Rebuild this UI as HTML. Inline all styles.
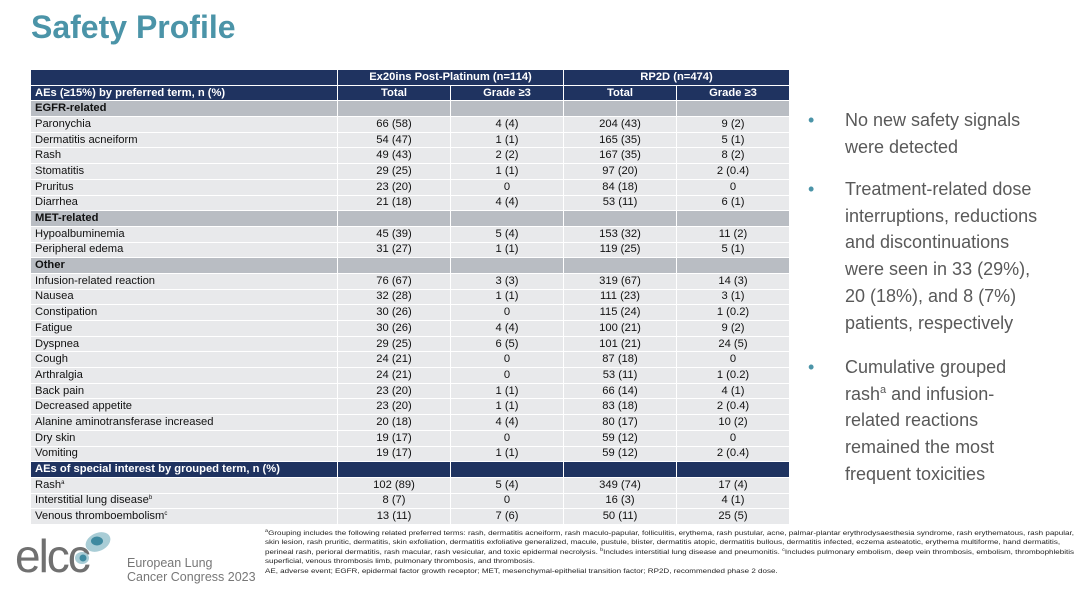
<!DOCTYPE html>
<html><head><meta charset="utf-8"><style>
body{margin:0;width:1080px;height:591px;background:#fff;position:relative;overflow:hidden;font-family:"Liberation Sans",sans-serif}
.t{position:absolute;left:31px;top:9px;font-size:32px;font-weight:bold;color:#4b94a8;margin:0}
table{position:absolute;left:30px;top:69px;border-collapse:collapse;table-layout:fixed;font-size:11.2px;color:#111}
td{height:14.7px;padding:0 4px;border:1px solid #fff;background:#e8e9eb;text-align:center;white-space:nowrap;line-height:13px}
td.l{text-align:left}
tr.h td{background:#1f3360;color:#fff;font-weight:bold}
tr.s td{background:#b9bdc3;font-weight:bold}
sup{font-size:6px;line-height:0;vertical-align:4px}
.bul{position:absolute;left:808px;color:#595959;font-size:18px;line-height:26.7px;white-space:nowrap}
.bul span{position:absolute;left:0;color:#4b94a8}
.bul div{margin-left:37px}
.bul sup{font-size:11px;vertical-align:7px}
.fn{position:absolute;left:265px;top:529px;font-size:6.5px;line-height:9.4px;color:#222;white-space:nowrap;transform:scaleX(1.235);transform-origin:0 0}
.fn sup{font-size:4.5px;vertical-align:3px}
</style></head><body>
<h1 class="t">Safety Profile</h1>
<table>
<colgroup><col style="width:307px"><col style="width:113px"><col style="width:113px"><col style="width:113px"><col style="width:113px"></colgroup>
<tr class="h"><td></td><td colspan="2">Ex20ins Post-Platinum (n=114)</td><td colspan="2">RP2D (n=474)</td></tr>
<tr class="h"><td class="l">AEs (≥15%) by preferred term, n (%)</td><td>Total</td><td>Grade ≥3</td><td>Total</td><td>Grade ≥3</td></tr>
<tr class="s"><td class="l">EGFR-related</td><td></td><td></td><td></td><td></td></tr>
<tr><td class="l">Paronychia</td><td>66 (58)</td><td>4 (4)</td><td>204 (43)</td><td>9 (2)</td></tr>
<tr><td class="l">Dermatitis acneiform</td><td>54 (47)</td><td>1 (1)</td><td>165 (35)</td><td>5 (1)</td></tr>
<tr><td class="l">Rash</td><td>49 (43)</td><td>2 (2)</td><td>167 (35)</td><td>8 (2)</td></tr>
<tr><td class="l">Stomatitis</td><td>29 (25)</td><td>1 (1)</td><td>97 (20)</td><td>2 (0.4)</td></tr>
<tr><td class="l">Pruritus</td><td>23 (20)</td><td>0</td><td>84 (18)</td><td>0</td></tr>
<tr><td class="l">Diarrhea</td><td>21 (18)</td><td>4 (4)</td><td>53 (11)</td><td>6 (1)</td></tr>
<tr class="s"><td class="l">MET-related</td><td></td><td></td><td></td><td></td></tr>
<tr><td class="l">Hypoalbuminemia</td><td>45 (39)</td><td>5 (4)</td><td>153 (32)</td><td>11 (2)</td></tr>
<tr><td class="l">Peripheral edema</td><td>31 (27)</td><td>1 (1)</td><td>119 (25)</td><td>5 (1)</td></tr>
<tr class="s"><td class="l">Other</td><td></td><td></td><td></td><td></td></tr>
<tr><td class="l">Infusion-related reaction</td><td>76 (67)</td><td>3 (3)</td><td>319 (67)</td><td>14 (3)</td></tr>
<tr><td class="l">Nausea</td><td>32 (28)</td><td>1 (1)</td><td>111 (23)</td><td>3 (1)</td></tr>
<tr><td class="l">Constipation</td><td>30 (26)</td><td>0</td><td>115 (24)</td><td>1 (0.2)</td></tr>
<tr><td class="l">Fatigue</td><td>30 (26)</td><td>4 (4)</td><td>100 (21)</td><td>9 (2)</td></tr>
<tr><td class="l">Dyspnea</td><td>29 (25)</td><td>6 (5)</td><td>101 (21)</td><td>24 (5)</td></tr>
<tr><td class="l">Cough</td><td>24 (21)</td><td>0</td><td>87 (18)</td><td>0</td></tr>
<tr><td class="l">Arthralgia</td><td>24 (21)</td><td>0</td><td>53 (11)</td><td>1 (0.2)</td></tr>
<tr><td class="l">Back pain</td><td>23 (20)</td><td>1 (1)</td><td>66 (14)</td><td>4 (1)</td></tr>
<tr><td class="l">Decreased appetite</td><td>23 (20)</td><td>1 (1)</td><td>83 (18)</td><td>2 (0.4)</td></tr>
<tr><td class="l">Alanine aminotransferase increased</td><td>20 (18)</td><td>4 (4)</td><td>80 (17)</td><td>10 (2)</td></tr>
<tr><td class="l">Dry skin</td><td>19 (17)</td><td>0</td><td>59 (12)</td><td>0</td></tr>
<tr><td class="l">Vomiting</td><td>19 (17)</td><td>1 (1)</td><td>59 (12)</td><td>2 (0.4)</td></tr>
<tr class="h"><td class="l">AEs of special interest by grouped term, n (%)</td><td></td><td></td><td></td><td></td></tr>
<tr><td class="l">Rash<sup>a</sup></td><td>102 (89)</td><td>5 (4)</td><td>349 (74)</td><td>17 (4)</td></tr>
<tr><td class="l">Interstitial lung disease<sup>b</sup></td><td>8 (7)</td><td>0</td><td>16 (3)</td><td>4 (1)</td></tr>
<tr><td class="l">Venous thromboembolism<sup>c</sup></td><td>13 (11)</td><td>7 (6)</td><td>50 (11)</td><td>25 (5)</td></tr>
</table>
<div class="bul" style="top:107px"><span>•</span><div>No new safety signals<br>were detected</div></div>
<div class="bul" style="top:176px"><span>•</span><div>Treatment-related dose<br>interruptions, reductions<br>and discontinuations<br>were seen in 33 (29%),<br>20 (18%), and 8 (7%)<br>patients, respectively</div></div>
<div class="bul" style="top:354px"><span>•</span><div>Cumulative grouped<br>rash<sup>a</sup> and infusion-<br>related reactions<br>remained the most<br>frequent toxicities</div></div>
<div>
<div style="position:absolute;left:15px;top:529px;font-size:46px;color:#707070;letter-spacing:-2px">elcc</div>
<svg style="position:absolute;left:70px;top:530px" width="50" height="42"><ellipse cx="28" cy="12" rx="13" ry="9" fill="#a9cdd6" transform="rotate(-25 28 12)"/><ellipse cx="27" cy="11" rx="6" ry="4.5" fill="#3f8aa0"/><ellipse cx="12" cy="28" rx="7" ry="6" fill="#a9cdd6"/><ellipse cx="13" cy="28" rx="3.5" ry="3.5" fill="#3f8aa0"/></svg>
<div style="position:absolute;left:127px;top:557px;font-size:12.5px;line-height:13.5px;color:#777">European Lung<br>Cancer Congress 2023</div>
</div>
<div class="fn"><sup>a</sup>Grouping includes the following related preferred terms: rash, dermatitis acneiform, rash maculo-papular, folliculitis, erythema, rash pustular, acne, palmar-plantar erythrodysaesthesia syndrome, rash erythematous, rash papular,<br>skin lesion, rash pruritic, dermatitis, skin exfoliation, dermatitis exfoliative generalized, macule, pustule, blister, dermatitis atopic, dermatitis bullous, dermatitis infected, eczema asteatotic, erythema multiforme, hand dermatitis,<br>perineal rash, perioral dermatitis, rash macular, rash vesicular, and toxic epidermal necrolysis. <sup>b</sup>Includes interstitial lung disease and pneumonitis. <sup>c</sup>Includes pulmonary embolism, deep vein thrombosis, embolism, thrombophlebitis<br>superficial, venous thrombosis limb, pulmonary thrombosis, and thrombosis.<br>AE, adverse event; EGFR, epidermal factor growth receptor; MET, mesenchymal-epithelial transition factor; RP2D, recommended phase 2 dose.</div>
</body></html>
